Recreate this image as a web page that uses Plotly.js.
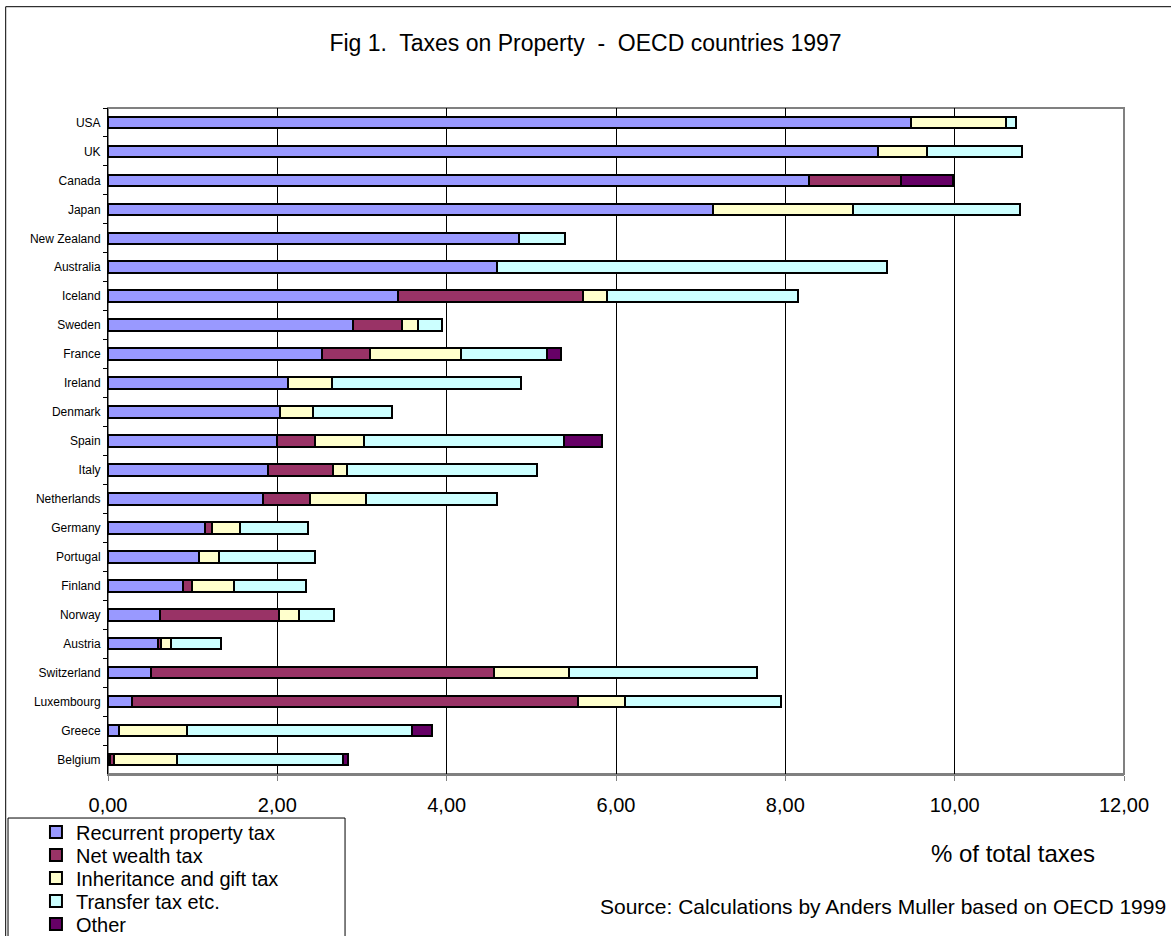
<!DOCTYPE html>
<html><head><meta charset="utf-8">
<script src="https://cdn.plot.ly/plotly-3.0.1.min.js"></script>
<style>html,body{margin:0;padding:0;background:#fff}#chart{width:1171px;height:936px}</style>
</head><body><div id="chart"></div>
<script>
const countries = ["USA","UK","Canada","Japan","New Zealand","Australia","Iceland","Sweden","France","Ireland","Denmark","Spain","Italy","Netherlands","Germany","Portugal","Finland","Norway","Austria","Switzerland","Luxembourg","Greece","Belgium"];
const recurrent   = [9.48,9.10,8.28,7.14,4.85,4.59,3.43,2.89,2.53,2.13,2.03,2.00,1.89,1.83,1.14,1.07,0.88,0.61,0.59,0.51,0.28,0.13,0.02];
const netWealth   = [0,0,1.09,0,0,0,2.18,0.58,0.56,0,0,0.45,0.77,0.55,0.09,0,0.11,1.41,0.04,4.05,5.27,0,0.05];
const inheritance = [1.13,0.57,0,1.66,0,0,0.28,0.19,1.08,0.52,0.39,0.57,0.16,0.67,0.33,0.24,0.50,0.23,0.11,0.88,0.56,0.80,0.74];
const transfer    = [0.12,1.13,0,1.97,0.55,4.61,2.26,0.28,1.01,2.23,0.93,2.36,2.25,1.54,0.80,1.14,0.85,0.42,0.60,2.23,1.84,2.66,1.97];
const other       = [0,0,0.61,0,0,0,0,0,0.17,0,0,0.46,0,0,0,0,0,0,0,0,0,0.24,0.06];

const seriesNames  = ["Recurrent property tax","Net wealth tax","Inheritance and gift tax","Transfer tax etc.","Other"];
const seriesValues = [recurrent, netWealth, inheritance, transfer, other];
const seriesColors = ["#9999FF","#993366","#FFFFCC","#CCFFFF","#660066"];
const xTickVals = [0,2,4,6,8,10,12];

const FONT = "Liberation Sans, Arial, Helvetica, sans-serif";
const legendIds = ["legend","legend2","legend3","legend4","legend5"];
const legendY = [-0.0871,-0.1216,-0.1562,-0.1907,-0.2252];

const traces = seriesNames.map((name, i) => ({
  type: "bar",
  orientation: "h",
  name: name,
  y: countries,
  x: seriesValues[i],
  legend: legendIds[i],
  marker: {color: seriesColors[i], line: {color: "#000", width: 2}},
  hoverinfo: "skip"
}));

const layout = {
  width: 1171, height: 936,
  paper_bgcolor: "#fff", plot_bgcolor: "#fff",
  font: {family: FONT, color: "#000"},
  margin: {l: 108, r: 47, t: 108, b: 162, autoexpand: false},
  barmode: "stack",
  bargap: 0.6,
  separators: ",.",
  title: {text: "Fig 1.  Taxes on Property  -  OECD countries 1997", font: {family: FONT, size: 23, color: "#000"},
          xref: "container", x: 0.5, xanchor: "center", yref: "container", y: 0.954, yanchor: "middle"},
  xaxis: {range: [0, 12], tickvals: xTickVals, tickformat: ".2f", showgrid: true, gridcolor: "#000", gridwidth: 1,
          zeroline: false, showline: true, linecolor: "#808080", linewidth: 2, ticks: "outside", ticklen: 5,
          tickcolor: "#808080", tickfont: {family: FONT, size: 20, color: "#000"}, ticklabelstandoff: 7, fixedrange: true},
  yaxis: {type: "category", autorange: "reversed", showline: true, linecolor: "#000", linewidth: 1,
          ticks: "outside", tickson: "boundaries", ticklen: 4, tickcolor: "#000", showgrid: false, zeroline: false,
          tickfont: {family: FONT, size: 12, color: "#000"}, ticklabelstandoff: 4, fixedrange: true},
  showlegend: true,
  shapes: [
    {type: "rect", xref: "paper", yref: "paper", x0: 0, x1: 1, y0: 0, y1: 1, line: {color: "#808080", width: 2}, layer: "below"},
    {type: "rect", xref: "paper", yref: "paper", x0: -0.1007, x1: 1.063, y0: -0.2568, y1: 1.1521, line: {color: "#000", width: 1}},
    {type: "rect", xref: "paper", yref: "paper", x0: -0.0984, x1: 0.2333, y0: -0.2568, y1: -0.0661, line: {color: "#000", width: 1}}
  ],
  annotations: [
    {text: "% of total taxes", xref: "paper", yref: "paper", x: 0.8907, y: -0.1201, xanchor: "center", yanchor: "middle",
     showarrow: false, font: {family: FONT, size: 24, color: "#000"}},
    {text: "Source: Calculations by Anders Muller based on OECD 1999", xref: "paper", yref: "paper", x: 1.0433, y: -0.1982,
     xanchor: "right", yanchor: "middle", showarrow: false, font: {family: FONT, size: 21, color: "#000"}}
  ]
};
legendIds.forEach((id, i) => {
  layout[id] = {x: -0.0709, xanchor: "left", y: legendY[i], yanchor: "middle", xref: "paper", yref: "paper",
                bgcolor: "rgba(0,0,0,0)", borderwidth: 0, font: {family: FONT, size: 20, color: "#000"}};
});

Plotly.newPlot("chart", traces, layout, {displayModeBar: false, staticPlot: true});
</script>
</body></html>
